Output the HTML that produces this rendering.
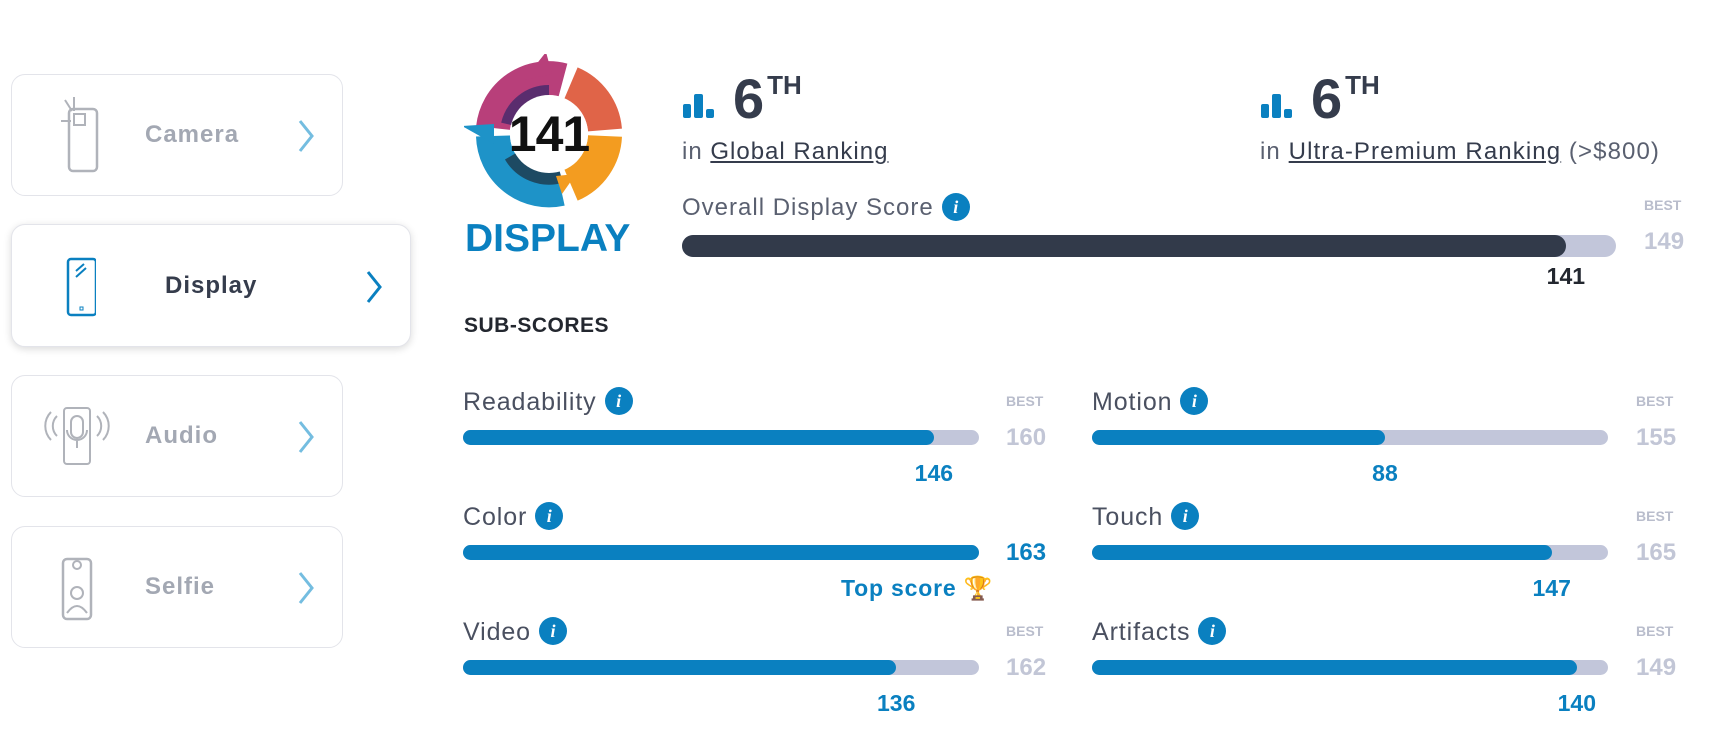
<!DOCTYPE html>
<html><head><meta charset="utf-8">
<style>
*{box-sizing:border-box;margin:0;padding:0}
body{width:1713px;height:729px;background:#fff;position:relative;overflow:hidden;font-family:"Liberation Sans",sans-serif;color:#353c4c}
.abs{position:absolute}
.card{position:absolute;left:11px;width:332px;height:122px;border:1px solid #e3e4ea;border-radius:14px;background:#fff}
.card .lbl{position:absolute;top:0;height:100%;display:flex;align-items:center;font-size:24px;font-weight:bold;color:#a3a8b3;letter-spacing:1px}
.card svg{position:absolute}
.info{display:inline-block;vertical-align:middle;width:28px;height:28px;border-radius:50%;background:#0a80c0;color:#fff;font:italic bold 18px "Liberation Serif",serif;text-align:center;line-height:28px;letter-spacing:0;margin-left:8px;position:relative;top:-2px}
.best{position:absolute;font-size:14px;font-weight:bold;color:#b9bdcc}
.bmax{position:absolute;font-size:24px;font-weight:bold;color:#c2c6d6}
.track{position:absolute;background:#c2c6da;border-radius:8px}
.sublbl{position:absolute;font-size:25px;color:#4a5060;letter-spacing:0.9px;white-space:nowrap}
.val{position:absolute;font-size:23px;font-weight:bold;color:#0a80c0;transform:translateX(-50%)}
</style></head><body>

<div class="card" style="top:74px">
 <svg style="left:45px;top:22px" width="50" height="80" viewBox="0 0 50 80"><rect x="12" y="12" width="28" height="62" rx="4" fill="none" stroke="#b0b3ba" stroke-width="2.5"/><rect x="17" y="17" width="11" height="11" fill="none" stroke="#b0b3ba" stroke-width="2"/><line x1="8" y1="3" x2="15" y2="14" stroke="#b0b3ba" stroke-width="2"/><line x1="17" y1="0" x2="17" y2="14" stroke="#b0b3ba" stroke-width="2"/><line x1="4" y1="24" x2="14" y2="24" stroke="#b0b3ba" stroke-width="2"/></svg>
 <div class="lbl" style="left:133px">Camera</div>
 <svg style="left:284px;top:43px" width="20" height="36"><polyline points="4,3 16,18 4,33" fill="none" stroke="#74bde0" stroke-width="3"/></svg>
</div>

<div class="card" style="top:224px;width:400px;height:123px;box-shadow:0 2px 8px rgba(0,0,0,0.15)">
 <svg style="left:44px;top:32px" width="40" height="60" viewBox="0 0 40 60"><rect x="12" y="2" width="28" height="56" rx="3" fill="none" stroke="#0a80c0" stroke-width="2.5"/><line x1="20" y1="14" x2="28" y2="7" stroke="#0a80c0" stroke-width="2"/><line x1="20" y1="20" x2="30" y2="11" stroke="#0a80c0" stroke-width="2"/><rect x="24" y="50" width="3" height="3" fill="none" stroke="#0a80c0" stroke-width="1"/></svg>
 <div class="lbl" style="left:153px;color:#353c4c">Display</div>
 <svg style="left:352px;top:44px" width="20" height="36"><polyline points="4,3 16,18 4,33" fill="none" stroke="#0a80c0" stroke-width="3"/></svg>
</div>

<div class="card" style="top:375px">
 <svg style="left:25px;top:28px" width="80" height="64" viewBox="0 0 80 64"><rect x="27" y="4" width="26" height="56" rx="3" fill="none" stroke="#b0b3ba" stroke-width="2"/><rect x="34" y="12" width="12" height="22" rx="6" fill="none" stroke="#b0b3ba" stroke-width="2"/><path d="M30 26 a10 10 0 0 0 20 0 M40 36 v8" fill="none" stroke="#b0b3ba" stroke-width="2"/><path d="M20 12 a14 14 0 0 0 0 20 M14 8 a20 20 0 0 0 0 28 M60 12 a14 14 0 0 1 0 20 M66 8 a20 20 0 0 1 0 28" fill="none" stroke="#b0b3ba" stroke-width="2"/></svg>
 <div class="lbl" style="left:133px">Audio</div>
 <svg style="left:284px;top:43px" width="20" height="36"><polyline points="4,3 16,18 4,33" fill="none" stroke="#74bde0" stroke-width="3"/></svg>
</div>

<div class="card" style="top:526px">
 <svg style="left:45px;top:24px" width="40" height="72" viewBox="0 0 40 72"><rect x="6" y="8" width="28" height="60" rx="4" fill="none" stroke="#b0b3ba" stroke-width="2.5"/><circle cx="20" cy="14" r="4" fill="none" stroke="#b0b3ba" stroke-width="2"/><circle cx="20" cy="42" r="6" fill="none" stroke="#b0b3ba" stroke-width="2"/><path d="M10 62 q10 -14 20 0" fill="none" stroke="#b0b3ba" stroke-width="2"/></svg>
 <div class="lbl" style="left:133px">Selfie</div>
 <svg style="left:284px;top:43px" width="20" height="36"><polyline points="4,3 16,18 4,33" fill="none" stroke="#74bde0" stroke-width="3"/></svg>
</div>

<svg class="abs" style="left:464px;top:54px" width="170" height="160" viewBox="0 0 170 160">
 <g transform="translate(85,80)" fill="none" stroke-width="34">
  <path d="M-56 -6 A56 56 0 0 1 14 -54" stroke="#b83f7a"/>
  <path d="M-42 -10 A43 43 0 0 1 0 -43" stroke="#5a2d6e" stroke-width="12"/>
  <path d="M22 -51 A56 56 0 0 1 56 -4" stroke="#e06448"/>
  <path d="M56 2 A56 56 0 0 1 22 51" stroke="#f39c20"/>
  <path d="M12 55 A56 56 0 0 1 -56 2" stroke="#1e93c8"/>
  <path d="M12 42 A44 44 0 0 1 -38 22" stroke="#1d4a63" stroke-width="14"/>
 </g>
 <polygon points="60,26 88,20 82,-2" fill="#b83f7a"/>
 <polygon points="-2,72 30,70 30,90" fill="#1e93c8"/>
 <polygon points="98,140 112,120 92,122" fill="#f39c20"/>
 <circle cx="85" cy="80" r="39" fill="#fff"/>
 <text x="85" y="97" text-anchor="middle" font-family="Liberation Sans Narrow, Liberation Sans, sans-serif" font-weight="bold" font-size="50" fill="#111" letter-spacing="-1">141</text>
</svg>
<div class="abs" style="left:465px;top:217px;font-size:39px;font-weight:bold;color:#0a80c0">DISPLAY</div>

<svg class="abs" style="left:683px;top:94px" width="38" height="24"><rect x="0" y="10" width="8" height="14" rx="2" fill="#0a80c0"/><rect x="11" y="0" width="9" height="24" rx="2" fill="#0a80c0"/><rect x="23" y="15" width="8" height="9" rx="2" fill="#0a80c0"/></svg>
<div class="abs" style="left:733px;top:66px;font-size:56px;font-weight:bold;color:#353c4c">6<sup style="font-size:26px;vertical-align:24px;margin-left:3px">TH</sup></div>
<div class="abs" style="left:682px;top:138px;font-size:24px;color:#5a6070;letter-spacing:1px">in <span style="text-decoration:underline;color:#353c4c">Global Ranking</span></div>

<svg class="abs" style="left:1261px;top:94px" width="38" height="24"><rect x="0" y="10" width="8" height="14" rx="2" fill="#0a80c0"/><rect x="11" y="0" width="9" height="24" rx="2" fill="#0a80c0"/><rect x="23" y="15" width="8" height="9" rx="2" fill="#0a80c0"/></svg>
<div class="abs" style="left:1311px;top:66px;font-size:56px;font-weight:bold;color:#353c4c">6<sup style="font-size:26px;vertical-align:24px;margin-left:3px">TH</sup></div>
<div class="abs" style="left:1260px;top:138px;font-size:24px;color:#5a6070;letter-spacing:1.1px;white-space:nowrap">in <span style="text-decoration:underline;color:#353c4c">Ultra-Premium Ranking</span> (&gt;$800)</div>

<div class="abs" style="left:682px;top:194px;font-size:24px;color:#5a6070;letter-spacing:1px;white-space:nowrap">Overall Display Score<span class="info">i</span></div>
<div class="best" style="left:1644px;top:197px">BEST</div>
<div id="overall"></div>

<div class="abs" style="left:464px;top:314px;font-size:21px;font-weight:bold;color:#23272f;letter-spacing:0.5px">SUB-SCORES</div>
<div class="abs" style="left:841px;top:575px;font-size:23px;font-weight:bold;color:#0a80c0;letter-spacing:0.8px">Top score <span style="color:#f5b428">🏆</span></div>

<script>
const overallValue = 141;
const overallBest = 149;
const subNames = ["Readability","Color","Video","Motion","Touch","Artifacts"];
const subValues = [146,163,136,88,147,140];
const subBests = [160,163,162,155,165,149];

function mk(tag, cls, style){const e=document.createElement(tag);if(cls)e.className=cls;e.style.cssText=style;return e;}
(function(){
 const x0=682,w=934,y=235,h=22;
 const sx=v=>w*v/overallBest;
 const t=mk('div','track',`left:${x0}px;top:${y}px;width:${w}px;height:${h}px;border-radius:11px`);
 
 
 const f=mk('div','',`position:absolute;left:0;top:0;height:100%;width:${sx(overallValue)}px;background:#323a4a;border-radius:11px`);
 
 
 t.appendChild(f);document.body.appendChild(t);
 const m=mk('div','bmax',`left:1644px;top:228px`);m.textContent=overallBest;
 
 
 document.body.appendChild(m);
 const v=mk('div','val',`left:${x0+sx(overallValue)}px;top:263px;color:#23272f`);v.textContent=overallValue;
 
 
 document.body.appendChild(v);
})();
subNames.forEach((n,i)=>{
 const col=Math.floor(i/3),row=i%3;
 const x0=col?1092:463,w=516,bx=col?1636:1006,y0=388+row*115;
 const sx=v=>w*v/subBests[i];
 const key=n.toLowerCase();
 const l=mk('div','sublbl',`left:${x0}px;top:${y0}px`);l.textContent=n;
 
 
 const ic=mk('span','info','');ic.textContent='i';
 
 
 l.appendChild(ic);
 document.body.appendChild(l);
 const isTop=subValues[i]>=subBests[i];
 if(!isTop){const b=mk('div','best',`left:${bx}px;top:${y0+5}px`);b.textContent='BEST';
  
  
  document.body.appendChild(b);}
 const t=mk('div','track',`left:${x0}px;top:${y0+42}px;width:${w}px;height:15px`);
 
 
 const f=mk('div','',`position:absolute;left:0;top:0;height:100%;width:${sx(subValues[i])}px;background:#0a80c0;border-radius:8px`);
 
 
 t.appendChild(f);document.body.appendChild(t);
 const m=mk('div','bmax',`left:${bx}px;top:${y0+36}px;${isTop?'color:#0a80c0':''}`);m.textContent=subBests[i];
 
 
 document.body.appendChild(m);
 if(!isTop){const v=mk('div','val',`left:${x0+sx(subValues[i])}px;top:${y0+72}px`);v.textContent=subValues[i];
  
  
  document.body.appendChild(v);}
});
</script>
</body></html>
